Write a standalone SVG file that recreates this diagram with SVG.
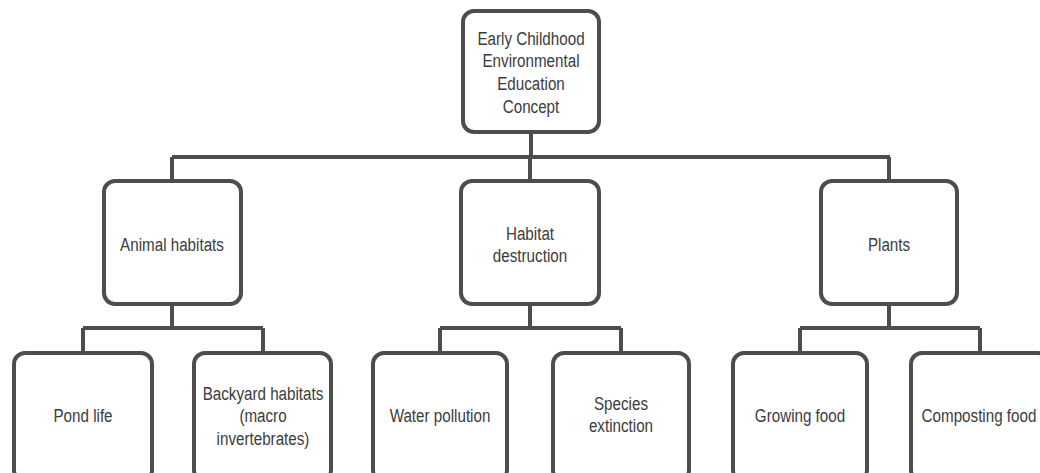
<svg xmlns="http://www.w3.org/2000/svg" width="1040" height="473" viewBox="0 0 1040 473">
<style>
.box{fill:#fff;stroke:#4d4d4d;stroke-width:4}
.conn{fill:none;stroke:#4d4d4d;stroke-width:4}
.lbl{font-family:"Liberation Sans",Arial,sans-serif;font-size:19px;fill:#3c3c3c;text-anchor:middle}
</style>
<rect width="1040" height="473" fill="#fff"/>
<g id="connectors">
<path class="conn" d="M531 132 V157 M172 157 H890 M172 157 V181 M530 157 V181 M889 157 V181"/>
<path class="conn" d="M172 304 V328 M83 328 H263 M83 328 V353 M263 328 V353"/>
<path class="conn" d="M530 304 V328 M440 328 H621 M440 328 V353 M621 328 V353"/>
<path class="conn" d="M889 304 V328 M800 328 H980 M800 328 V353 M980 328 V353"/>
</g>
<g id="root">
<rect class="box" x="463" y="11" width="136" height="121" rx="11"/>
<text class="lbl" transform="translate(531 0) scale(0.8 1)"><tspan x="0" y="45">Early Childhood</tspan><tspan x="0" y="67.5">Environmental</tspan><tspan x="0" y="90.5">Education</tspan><tspan x="0" y="113.5">Concept</tspan></text>
</g>
<g id="animal-habitats">
<rect class="box" x="104" y="181" width="137" height="123" rx="11"/>
<text class="lbl" transform="translate(172 0) scale(0.8 1)"><tspan x="0" y="251">Animal habitats</tspan></text>
</g>
<g id="habitat-destruction">
<rect class="box" x="461" y="181" width="138" height="123" rx="11"/>
<text class="lbl" transform="translate(530 0) scale(0.8 1)"><tspan x="0" y="240">Habitat</tspan><tspan x="0" y="262.5">destruction</tspan></text>
</g>
<g id="plants">
<rect class="box" x="821" y="181" width="136" height="123" rx="11"/>
<text class="lbl" transform="translate(889 0) scale(0.8 1)"><tspan x="0" y="251">Plants</tspan></text>
</g>
<g id="pond-life">
<rect class="box" x="14" y="353" width="138" height="128" rx="11"/>
<text class="lbl" transform="translate(83 0) scale(0.8 1)"><tspan x="0" y="422.5">Pond life</tspan></text>
</g>
<g id="backyard-habitats">
<rect class="box" x="194" y="353" width="137" height="128" rx="11"/>
<text class="lbl" transform="translate(263 0) scale(0.8 1)"><tspan x="0" y="400">Backyard habitats</tspan><tspan x="0" y="422.5">(macro</tspan><tspan x="0" y="445">invertebrates)</tspan></text>
</g>
<g id="water-pollution">
<rect class="box" x="373" y="353" width="134" height="128" rx="11"/>
<text class="lbl" transform="translate(440 0) scale(0.8 1)"><tspan x="0" y="422.5">Water pollution</tspan></text>
</g>
<g id="species-extinction">
<rect class="box" x="553" y="353" width="136" height="128" rx="11"/>
<text class="lbl" transform="translate(621 0) scale(0.8 1)"><tspan x="0" y="410">Species</tspan><tspan x="0" y="432.5">extinction</tspan></text>
</g>
<g id="growing-food">
<rect class="box" x="733" y="353" width="134" height="128" rx="11"/>
<text class="lbl" transform="translate(800 0) scale(0.8 1)"><tspan x="0" y="422.5">Growing food</tspan></text>
</g>
<g id="composting-food">
<rect class="box" x="911" y="353" width="138" height="128" rx="11"/>
<text class="lbl" transform="translate(979 0) scale(0.8 1)"><tspan x="0" y="422.5">Composting food</tspan></text>
</g>
</svg>
